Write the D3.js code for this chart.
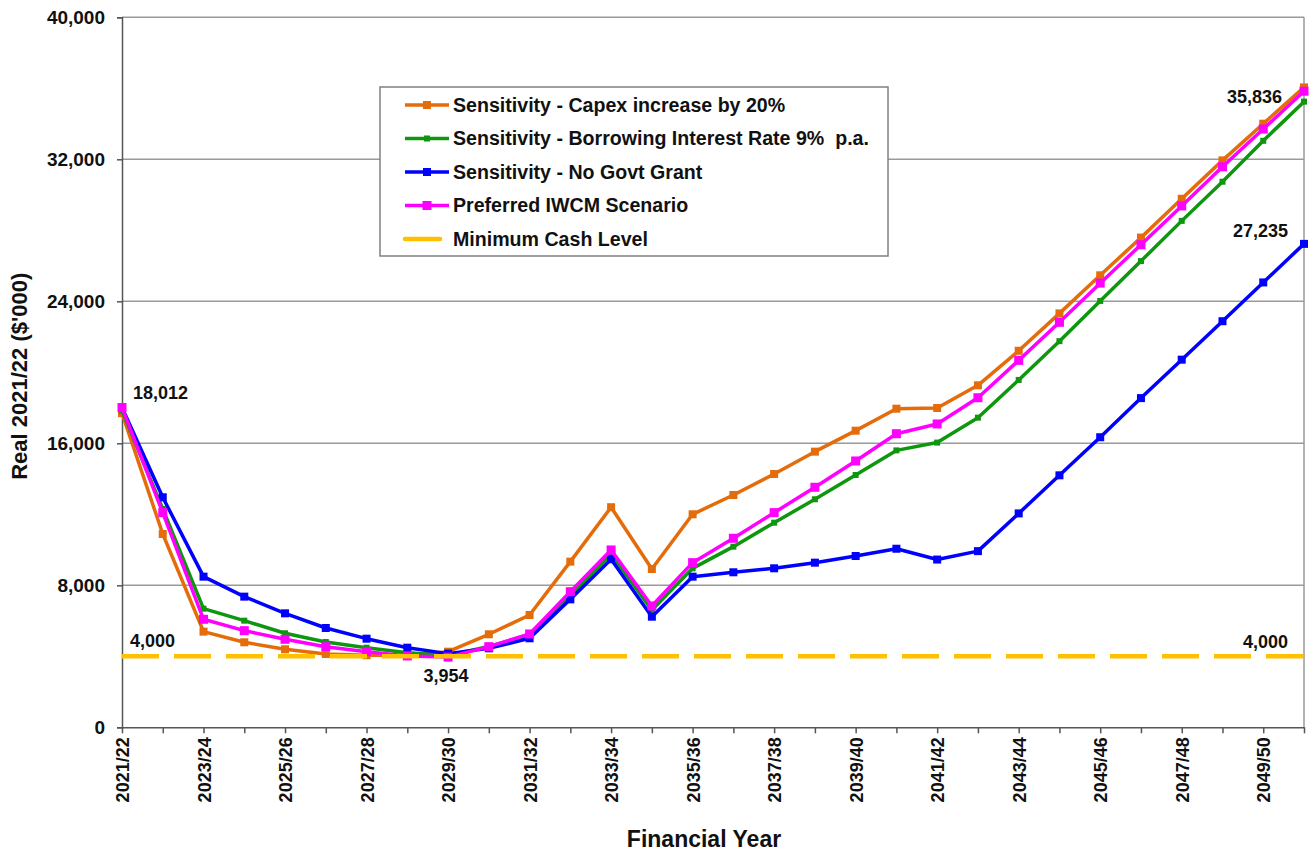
<!DOCTYPE html>
<html>
<head>
<meta charset="utf-8">
<script src="https://cdn.jsdelivr.net/npm/d3@7/dist/d3.min.js"></script>
<style>
  html, body { margin: 0; padding: 0; background: #fff; }
  svg { display: block; font-family: "Liberation Sans", Arial, sans-serif; }
</style>
</head>
<body>
<svg id="chart" width="1309" height="853"></svg>
<script>
// Financial years on the horizontal axis
const years = [
  "2021/22","2022/23","2023/24","2024/25","2025/26","2026/27","2027/28","2028/29","2029/30","2030/31",
  "2031/32","2032/33","2033/34","2034/35","2035/36","2036/37","2037/38","2038/39","2039/40","2040/41",
  "2041/42","2042/43","2043/44","2044/45","2045/46","2046/47","2047/48","2048/49","2049/50","2050/51"
];

// Closing cash, real 2021/22 ($'000)
const capexIncrease = [
  17700, 10890, 5389, 4790, 4395, 4130, 4060, 4040, 4260, 5240,
  6327, 9333, 12400, 8919, 12000, 13088, 14271, 15529, 16711, 17950,
  17990, 19268, 21213, 23318, 25464, 27589, 29775, 31940, 34005, 36050
];
const borrowingRate = [
  17850, 12300, 6684, 6008, 5296, 4806, 4485, 4205, 4050, 4560,
  5200, 7450, 9765, 6610, 8956, 10177, 11528, 12847, 14215, 15600,
  16040, 17444, 19569, 21754, 24020, 26266, 28531, 30737, 33043, 35248
];
const noGovtGrant = [
  18012, 12958, 8487, 7361, 6421, 5595, 4993, 4486, 4150, 4450,
  5014, 7208, 9467, 6232, 8487, 8733, 8958, 9275, 9651, 10060,
  9450, 9925, 12050, 14196, 16341, 18546, 20712, 22877, 25063, 27235
];
const preferred = [
  18012, 12091, 6085, 5445, 4958, 4543, 4260, 4020, 3954, 4543,
  5257, 7640, 9990, 6835, 9275, 10650, 12093, 13523, 15004, 16540,
  17090, 18567, 20672, 22817, 25023, 27188, 29374, 31579, 33704, 35836
];
const minimumCash = years.map(() => 4000);

const yTicks = [0, 8000, 16000, 24000, 32000, 40000];

const seriesNames = [
  "Sensitivity - Capex increase by 20%",
  "Sensitivity - Borrowing Interest Rate 9%  p.a.",
  "Sensitivity - No Govt Grant",
  "Preferred IWCM Scenario",
  "Minimum Cash Level"
];

const series = [
  { name: seriesNames[0], values: capexIncrease, color: "#E46C0A", marker: 8 },
  { name: seriesNames[1], values: borrowingRate, color: "#0F960F", marker: 6 },
  { name: seriesNames[2], values: noGovtGrant,   color: "#0000FF", marker: 8 },
  { name: seriesNames[3], values: preferred,     color: "#FF00FF", marker: 9 }
];

const svg = d3.select("#chart");
const plotLeft = 122, plotRight = 1304, plotTop = 17.3, plotBottom = 727.3;

const x = d3.scalePoint().domain(years).range([plotLeft, plotRight]);
const y = d3.scaleLinear().domain([0, 40000]).range([plotBottom, plotTop]);

const font = '"Liberation Sans", Arial, sans-serif';

// Horizontal gridlines
svg.append("g")
  .selectAll("line")
  .data(yTicks.filter(d => d > 0))
  .join("line")
  .attr("x1", plotLeft).attr("x2", plotRight)
  .attr("y1", d => y(d)).attr("y2", d => y(d))
  .attr("stroke", "#9a9a9a").attr("stroke-width", 1.5);

// Right border of the plot area
svg.append("line")
  .attr("x1", plotRight).attr("x2", plotRight)
  .attr("y1", y(40000)).attr("y2", y(0))
  .attr("stroke", "#9a9a9a").attr("stroke-width", 1.5);

// Y axis
const yAxis = svg.append("g")
  .attr("transform", `translate(${plotLeft},0)`)
  .call(d3.axisLeft(y).tickValues(yTicks).tickFormat(d3.format(",")).tickSize(5).tickPadding(12));
yAxis.select(".domain").attr("stroke", "#555").attr("stroke-width", 1.5);
yAxis.selectAll(".tick line").attr("stroke", "#555").attr("stroke-width", 1.5);
yAxis.selectAll("text")
  .attr("font-family", font).attr("font-weight", "bold")
  .attr("font-size", 19).attr("fill", "#111");

// X axis
const xAxis = svg.append("g")
  .attr("transform", `translate(0,${plotBottom})`)
  .call(d3.axisBottom(x).tickSize(6).tickSizeOuter(0)
    .tickFormat((d, i) => i % 2 === 0 ? d : ""));
xAxis.select(".domain").attr("stroke", "#555").attr("stroke-width", 1.5);
xAxis.selectAll(".tick line").attr("stroke", "#555").attr("stroke-width", 1.5);
xAxis.selectAll("text")
  .attr("font-family", font).attr("font-weight", "bold")
  .attr("font-size", 18).attr("fill", "#111")
  .attr("transform", "rotate(-90)")
  .attr("text-anchor", "end")
  .attr("x", -10).attr("y", 0).attr("dy", "0.36em");

// Axis titles
svg.append("text")
  .attr("transform", `translate(19,${(plotTop + plotBottom) / 2 + 4}) rotate(-90)`)
  .attr("text-anchor", "middle").attr("dy", "0.35em")
  .attr("font-family", font).attr("font-weight", "bold").attr("font-size", 22).attr("fill", "#111")
  .text("Real 2021/22 ($'000)");

svg.append("text")
  .attr("x", 704).attr("y", 839).attr("text-anchor", "middle").attr("dy", "0.35em")
  .attr("font-family", font).attr("font-weight", "bold").attr("font-size", 23).attr("fill", "#111")
  .text("Financial Year");

// Scenario lines with square markers
const line = d3.line().x((d, i) => x(years[i])).y(d => y(d));
series.forEach(s => {
  const g = svg.append("g");
  g.append("path")
    .datum(s.values)
    .attr("d", line)
    .attr("fill", "none").attr("stroke", s.color).attr("stroke-width", 3.5)
    .attr("stroke-linejoin", "round");
  g.selectAll("rect")
    .data(s.values)
    .join("rect")
    .attr("x", (d, i) => x(years[i]) - s.marker / 2)
    .attr("y", d => y(d) - s.marker / 2)
    .attr("width", s.marker).attr("height", s.marker)
    .attr("fill", s.color);
});

// Minimum cash level (dashed)
svg.append("path")
  .datum(minimumCash)
  .attr("d", line)
  .attr("fill", "none").attr("stroke", "#FFC000").attr("stroke-width", 4.5)
  .attr("stroke-dasharray", "37,15");

// Value labels
const labels = [
  { i: 0,  v: preferred[0],     text: d3.format(",")(preferred[0]),    dx: 11,  dy: -15, anchor: "start" },
  { i: 0,  v: minimumCash[0],   text: d3.format(",")(minimumCash[0]),  dx: 8,   dy: -16, anchor: "start" },
  { i: 8,  v: preferred[8],     text: d3.format(",")(preferred[8]),    dx: -2,  dy: 19,  anchor: "middle" },
  { i: 29, v: preferred[29],    text: d3.format(",")(preferred[29]),   dx: -22, dy: 5,   anchor: "end" },
  { i: 29, v: noGovtGrant[29],  text: d3.format(",")(noGovtGrant[29]), dx: -16, dy: -13, anchor: "end" },
  { i: 29, v: minimumCash[29],  text: d3.format(",")(minimumCash[29]), dx: -16, dy: -15, anchor: "end" }
];
svg.append("g")
  .selectAll("text")
  .data(labels)
  .join("text")
  .attr("x", d => x(years[d.i]) + d.dx)
  .attr("y", d => y(d.v) + d.dy)
  .attr("text-anchor", d => d.anchor).attr("dy", "0.35em")
  .attr("font-family", font).attr("font-weight", "bold").attr("font-size", 18).attr("fill", "#111")
  .text(d => d.text);

// Legend
const legend = svg.append("g");
legend.append("rect")
  .attr("x", 380).attr("y", 87).attr("width", 508).attr("height", 169)
  .attr("fill", "#fff").attr("stroke", "#808080").attr("stroke-width", 1.5);

const legendItems = series.map(s => ({ name: s.name, color: s.color, marker: s.marker, dashed: false }))
  .concat([{ name: seriesNames[4], color: "#FFC000", marker: 0, dashed: true }]);

const rowY = d3.scaleLinear().domain([0, 4]).range([105, 239]);
legendItems.forEach((it, k) => {
  const cy = rowY(k);
  if (it.dashed) {
    legend.append("line")
      .attr("x1", 405).attr("x2", 440).attr("y1", cy).attr("y2", cy)
      .attr("stroke", it.color).attr("stroke-width", 4.5).attr("stroke-linecap", "round");
  } else {
    legend.append("line")
      .attr("x1", 405).attr("x2", 449).attr("y1", cy).attr("y2", cy)
      .attr("stroke", it.color).attr("stroke-width", 3.5);
    legend.append("rect")
      .attr("x", 427 - it.marker / 2).attr("y", cy - it.marker / 2)
      .attr("width", it.marker).attr("height", it.marker)
      .attr("fill", it.color);
  }
  legend.append("text")
    .attr("x", 453).attr("y", cy).attr("dy", "0.35em")
    .attr("font-family", font).attr("font-weight", "bold").attr("font-size", 19.6).attr("fill", "#111")
    .attr("xml:space", "preserve")
    .style("white-space", "pre")
    .text(it.name);
});
</script>
</body>
</html>
